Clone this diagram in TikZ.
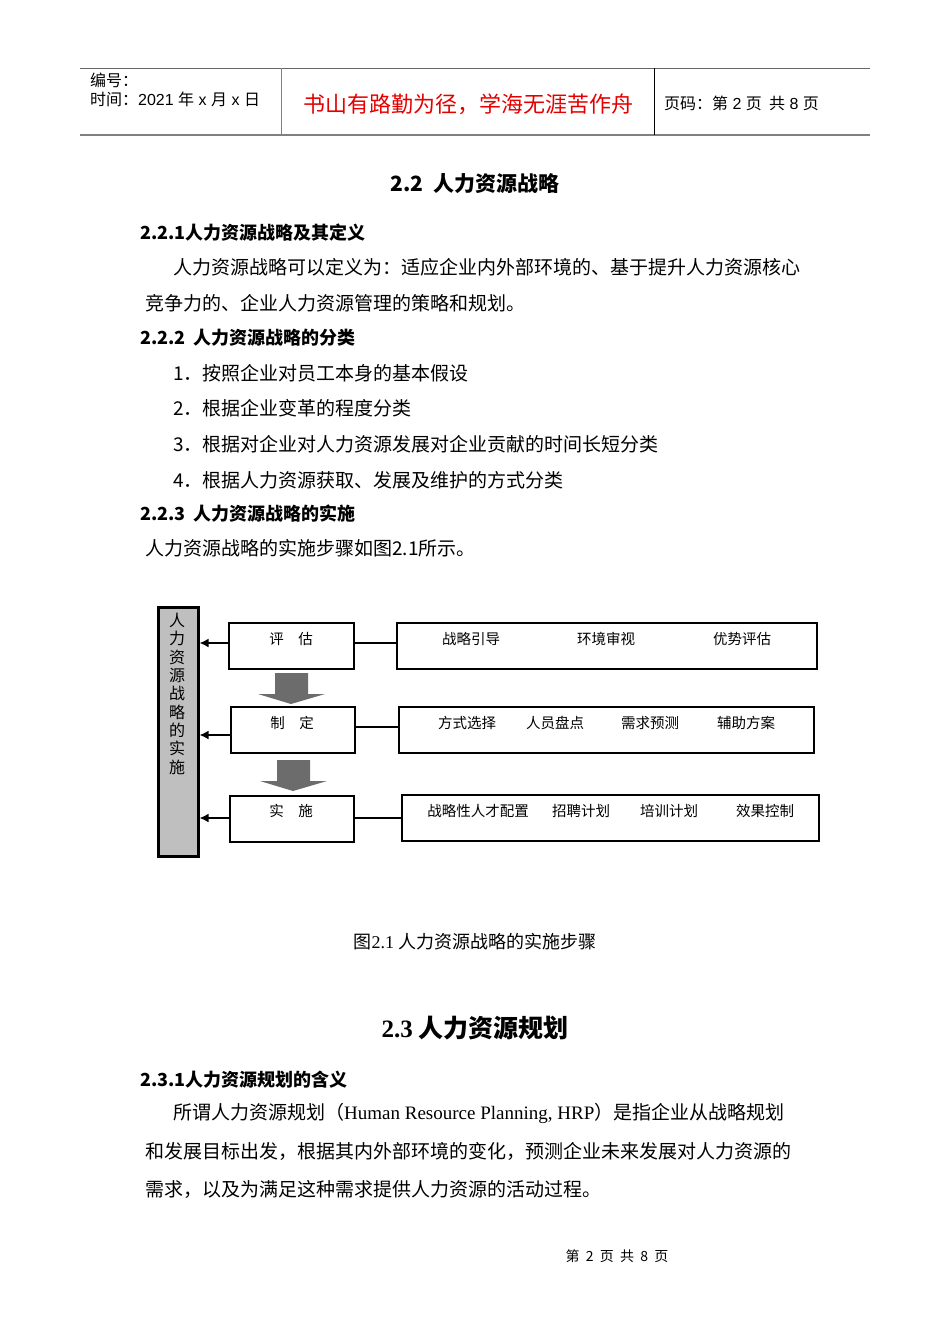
\documentclass[tikz,border=0pt]{standalone}
\usepackage{fontspec}
\usetikzlibrary{arrows.meta}
\setmainfont{Noto Sans CJK SC}
\newfontfamily\lat{Liberation Serif}
\newfontfamily\hdr{Liberation Sans}
\begin{document}
\begin{tikzpicture}[x=1pt,y=-1pt,
  txt/.style={anchor=west,inner sep=0pt,font=\fontsize{19}{19}\selectfont},
  hd/.style={anchor=west,inner sep=0pt,font=\fontsize{18}{18}\selectfont\bfseries},
  lbox/.style={draw,line width=2pt,anchor=north west,inner sep=0pt},
  itm/.style={inner sep=0pt,font=\fontsize{14.5}{14.5}\selectfont},
  conn/.style={line width=2.2pt},
  toarr/.style={line width=2.2pt,-{Latex[length=9pt,width=9pt]}}]
\useasboundingbox (0,0) rectangle (950,1344);
\fill[white] (0,0) rectangle (950,1344);
% header
\draw[line width=1pt,gray!80!black] (80,68) -- (870,68);
\draw[line width=1.5pt,gray] (80,135) -- (870,135);
\draw[line width=1pt,gray] (281,68) -- (281,135);
\draw[line width=1pt] (654,68) -- (654,135);
\node[anchor=west,inner sep=0pt,font=\fontsize{16}{16}\selectfont] (bh) at (90,80) {编号：};
\node[anchor=west,inner sep=0pt,font=\fontsize{16}{16}\selectfont] (sj) at (90,99) {时间：{\hdr 2021 }年{\hdr\ x }月{\hdr\ x }日};
\node[inner sep=0pt,text=red!90!black,font=\fontsize{22}{22}\selectfont] (motto) at (468,104) {书山有路勤为径，学海无涯苦作舟};
\node[anchor=west,inner sep=0pt,font=\fontsize{16}{16}\selectfont] (ym) at (664,103) {页码：第{\hdr\ 2 }页\ \ 共{\hdr\ 8 }页};
% body
\node[inner sep=0pt,font=\fontsize{21}{21}\selectfont\bfseries] (t22) at (475,184) {2.2\ \ 人力资源战略};
\node[hd] (h221) at (140,233) {2.2.1人力资源战略及其定义};
\node[txt] (p1) at (173,267) {人力资源战略可以定义为：适应企业内外部环境的、基于提升人力资源核心};
\node[txt] (p2) at (145,303) {竞争力的、企业人力资源管理的策略和规划。};
\node[hd] (h222) at (140,338) {2.2.2\ \ 人力资源战略的分类};
\node[txt] (i1) at (173,373) {1．按照企业对员工本身的基本假设};
\node[txt] (i2) at (173,408) {2．根据企业变革的程度分类};
\node[txt] (i3) at (173,444) {3．根据对企业对人力资源发展对企业贡献的时间长短分类};
\node[txt] (i4) at (173,480) {4．根据人力资源获取、发展及维护的方式分类};
\node[hd] (h223) at (140,514) {2.2.3\ \ 人力资源战略的实施};
\node[txt] (p3) at (145,548) {人力资源战略的实施步骤如图2.1所示。};
% diagram
\node[draw,line width=2.5pt,fill=gray!50,minimum width=40pt,minimum height=249pt,anchor=north west,inner sep=0pt] (bar) at (157,606) {};
\node[itm,align=center,anchor=north,text width=16pt,font=\fontsize{16}{18.3}\selectfont] (bartxt) at (177,613) {人\\力\\资\\源\\战\\略\\的\\实\\施};
\node[lbox,minimum width=125pt,minimum height=46pt] (b1) at (228,622) {};
\node[lbox,minimum width=124pt,minimum height=46pt] (b2) at (230,706) {};
\node[lbox,minimum width=124pt,minimum height=46pt] (b3) at (229,795) {};
\node[itm] at (291,639) {评\quad 估};
\node[itm] at (292,723) {制\quad 定};
\node[itm] at (291,811) {实\quad 施};
\node[lbox,minimum width=420pt,minimum height=46pt] (r1) at (396,622) {};
\node[lbox,minimum width=415pt,minimum height=46pt] (r2) at (398,706) {};
\node[lbox,minimum width=417pt,minimum height=46pt] (r3) at (401,794) {};
\node[itm] at (471,639) {战略引导};
\node[itm] at (606,639) {环境审视};
\node[itm] at (742,639) {优势评估};
\node[itm] at (467,723) {方式选择};
\node[itm] at (555,723) {人员盘点};
\node[itm] at (650,723) {需求预测};
\node[itm] at (746,723) {辅助方案};
\node[itm] at (478,811) {战略性人才配置};
\node[itm] at (581,811) {招聘计划};
\node[itm] at (669,811) {培训计划};
\node[itm] at (765,811) {效果控制};
\draw[conn] (b1.east |- 0,643) -- (r1.west |- 0,643);
\draw[conn] (b2.east |- 0,727) -- (r2.west |- 0,727);
\draw[conn] (b3.east |- 0,818) -- (r3.west |- 0,818);
\draw[toarr] (b1.west |- 0,643) -- (bar.east |- 0,643);
\draw[toarr] (b2.west |- 0,735) -- (bar.east |- 0,735);
\draw[toarr] (b3.west |- 0,818) -- (bar.east |- 0,818);
\fill[gray!85!black] (275,673) -- (308,673) -- (308,694) -- (325,694) -- (291,704) -- (258,694) -- (275,694) -- cycle;
\fill[gray!85!black] (277,760) -- (310,760) -- (310,781) -- (327,781) -- (293,791) -- (260,781) -- (277,781) -- cycle;
\node[inner sep=0pt,font=\fontsize{18}{18}\selectfont] (cap) at (475,942) {图{\lat 2.1} 人力资源战略的实施步骤};
\node[inner sep=0pt,font=\fontsize{25}{25}\selectfont\bfseries] (t23) at (475,1028) {{\lat\bfseries 2.3} 人力资源规划};
\node[hd] (h231) at (140,1080) {2.3.1人力资源规划的含义};
\node[txt] (q1) at (173,1113) {所谓人力资源规划（{\lat Human Resource Planning, HRP}）是指企业从战略规划};
\node[txt] (q2) at (145,1151) {和发展目标出发，根据其内外部环境的变化，预测企业未来发展对人力资源的};
\node[txt] (q3) at (145,1189) {需求，以及为满足这种需求提供人力资源的活动过程。};
\node[inner sep=0pt,font=\fontsize{14}{14}\selectfont] (foot) at (617,1256) {第\ \ 2\ \ 页\ \ 共\ \ 8\ \ 页};
\end{tikzpicture}
\end{document}
